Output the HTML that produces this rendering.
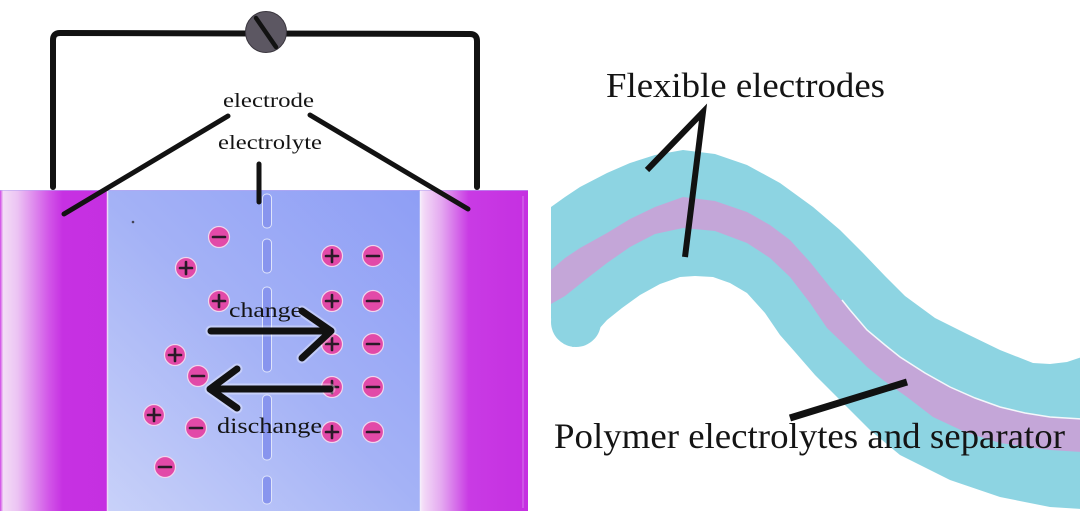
<!DOCTYPE html>
<html>
<head>
<meta charset="utf-8">
<style>
  html,body{margin:0;padding:0;background:#fff;}
  svg{display:block;}
  text{font-family:"Liberation Serif","Times New Roman",serif;fill:#141414;}
</style>
</head>
<body>
<svg width="1080" height="511" viewBox="0 0 1080 511" xmlns="http://www.w3.org/2000/svg">
  <defs>
    <linearGradient id="elyte" gradientUnits="userSpaceOnUse" x1="420" y1="190" x2="108" y2="511">
      <stop offset="0" stop-color="#8e9ef5"/>
      <stop offset="0.5" stop-color="#a4b2f6"/>
      <stop offset="1" stop-color="#c8d1f9"/>
    </linearGradient>
    <linearGradient id="leftE" gradientUnits="userSpaceOnUse" x1="0" y1="0" x2="108" y2="0">
      <stop offset="0" stop-color="#cf45e6"/>
      <stop offset="0.03" stop-color="#f3dcf6"/>
      <stop offset="0.16" stop-color="#ecc4f3"/>
      <stop offset="0.45" stop-color="#d257e8"/>
      <stop offset="0.58" stop-color="#c631e2"/>
      <stop offset="1" stop-color="#c52fe1"/>
    </linearGradient>
    <linearGradient id="rightE" gradientUnits="userSpaceOnUse" x1="420" y1="0" x2="528" y2="0">
      <stop offset="0" stop-color="#f7e8f9"/>
      <stop offset="0.05" stop-color="#f1d4f6"/>
      <stop offset="0.2" stop-color="#e4a8f0"/>
      <stop offset="0.45" stop-color="#c93be4"/>
      <stop offset="1" stop-color="#c52fe1"/>
    </linearGradient>
    <clipPath id="rightClip"><rect x="551" y="0" width="529" height="511"/></clipPath>
  </defs>

  <rect x="0" y="0" width="1080" height="511" fill="#ffffff"/>

  <!-- ===== LEFT: cell ===== -->
  <rect x="108" y="190" width="312" height="321" fill="url(#elyte)"/>
  <rect x="0" y="190" width="108" height="321" fill="url(#leftE)"/>
  <line x1="107.5" y1="191" x2="107.5" y2="511" stroke="#eed8f6" stroke-width="1.5"/>
  <rect x="420" y="190" width="108" height="321" fill="url(#rightE)"/>
  <line x1="420.5" y1="191" x2="420.5" y2="511" stroke="#f4eefb" stroke-width="1.5"/>
  <line x1="523" y1="196" x2="523" y2="508" stroke="#d978ec" stroke-width="1"/>
  <line x1="0" y1="190.5" x2="528" y2="190.5" stroke="#b9a6f2" stroke-width="1" opacity="0.6"/>

  <!-- tiny dot -->
  <circle cx="133" cy="222" r="1.3" fill="#445"/>

  <!-- dashed separator -->
  <g fill="#8895ee" stroke="#dfe4fb" stroke-width="1">
    <rect x="262.5" y="194" width="9" height="34" rx="4"/>
    <rect x="262.5" y="239" width="9" height="34" rx="4"/>
    <rect x="262.5" y="287" width="9" height="85" rx="4"/>
    <rect x="262.5" y="395" width="9" height="65" rx="4"/>
    <rect x="262.5" y="476" width="9" height="28" rx="4"/>
  </g>

  <!-- circuit wire -->
  <path d="M53,187 L53,40 Q53,33 60,33 L470,34 Q477,34 477,41 L477,187" fill="none" stroke="#121212" stroke-width="6" stroke-linejoin="round" stroke-linecap="round"/>
  <!-- meter -->
  <circle cx="266" cy="32" r="20.5" fill="#5c5762" stroke="#3a363e" stroke-width="1"/>
  <line x1="256" y1="18" x2="276" y2="47" stroke="#121212" stroke-width="4.5" stroke-linecap="round"/>

  <!-- pointer lines -->
  <g stroke="#121212" stroke-width="5" stroke-linecap="round">
    <line x1="228" y1="116" x2="64" y2="214"/>
    <line x1="310" y1="115" x2="468" y2="209"/>
    <line x1="259" y1="164" x2="259" y2="202"/>
  </g>

  <!-- labels -->
  <text x="223" y="107" font-size="20" textLength="91" lengthAdjust="spacingAndGlyphs">electrode</text>
  <text x="218" y="149" font-size="20" textLength="104" lengthAdjust="spacingAndGlyphs">electrolyte</text>

  <!-- ions -->
  <g id="ions">
    <g fill="#e24aa8" stroke="#f1d6ee" stroke-width="1.2">
      <circle cx="219" cy="237" r="10.5"/>
      <circle cx="186" cy="268" r="10.5"/>
      <circle cx="219" cy="301" r="10.5"/>
      <circle cx="175" cy="355" r="10.5"/>
      <circle cx="198" cy="376" r="10.5"/>
      <circle cx="154" cy="415" r="10.5"/>
      <circle cx="196" cy="428" r="10.5"/>
      <circle cx="165" cy="467" r="10.5"/>
      <circle cx="332" cy="256" r="10.5"/><circle cx="373" cy="256" r="10.5"/>
      <circle cx="332" cy="301" r="10.5"/><circle cx="373" cy="301" r="10.5"/>
      <circle cx="332" cy="344" r="10.5"/><circle cx="373" cy="344" r="10.5"/>
      <circle cx="332" cy="387" r="10.5"/><circle cx="373" cy="387" r="10.5"/>
      <circle cx="332" cy="432" r="10.5"/><circle cx="373" cy="432" r="10.5"/>
    </g>
    <g stroke="#2a1a28" stroke-width="2.6" stroke-linecap="round" fill="none">
      <!-- minus signs -->
      <path d="M213,237 h12 M192,376 h12 M190,428 h12 M159,467 h12
               M367,256 h12 M367,301 h12 M367,344 h12 M367,387 h12 M367,432 h12"/>
      <!-- plus signs -->
      <path d="M180,268 h12 M186,262 v12
               M213,301 h12 M219,295 v12
               M169,355 h12 M175,349 v12
               M148,415 h12 M154,409 v12
               M326,256 h12 M332,250 v12
               M326,301 h12 M332,295 v12
               M326,344 h12 M332,338 v12
               M326,387 h12 M332,381 v12
               M326,432 h12 M332,426 v12"/>
    </g>
  </g>

  <!-- arrows -->
  <g fill="none" stroke-linecap="round" stroke-linejoin="round">
    <g stroke="#ffffff" stroke-width="11" opacity="0.35">
      <path d="M211,331 L331,331 M302,311 L331,331 L302,358"/>
      <path d="M330,389 L210,389 M237,369 L210,389 L237,408"/>
    </g>
    <g stroke="#111111" stroke-width="7">
      <path d="M211,331 L331,331 M302,311 L331,331 L302,358"/>
      <path d="M330,389 L210,389 M237,369 L210,389 L237,408"/>
    </g>
  </g>
  <text x="229" y="317" font-size="21" textLength="73" lengthAdjust="spacingAndGlyphs">change</text>
  <text x="217" y="433" font-size="22" textLength="105" lengthAdjust="spacingAndGlyphs">dischange</text>

  <!-- ===== RIGHT: flexible battery ===== -->
  <g clip-path="url(#rightClip)">
    <!-- teal band -->
    <path fill="#8dd4e2" d="
      M551,207 L565,197 L580,187 L607,173 L630,163 L655,155 L683,150 L715,154 L747,165 L780,183
      L813,207 L840,230 L863,253 L885,276 L905,296 L935,318 L967,334 L1000,350 L1033,363 L1050,364
      L1067,362 L1082,357 L1082,509
      L1050,507 L1000,497 L950,480 L900,455 L870,430 L850,410 L815,375 L795,352 L780,335 L765,313
      L747,293 L730,283 L713,277 L695,276 L680,277 L660,284 L640,295 L622,308 L607,320 L598,330
      L590,338 L582,344 L573,347 L564,344 L557,337 L553,328 L551,318 Z"/>
    <!-- purple layer -->
    <path fill="#c4a6d8" d="
      M551,270 L565,258 L580,248 L607,233 L630,219 L655,207 L683,197 L715,201 L747,212 L770,225
      L790,240 L810,262 L830,287 L850,310 L867,330 L885,345 L900,357 L925,373 L950,387 L975,398
      L1000,407 L1025,413 L1050,417 L1082,419 L1082,452
      L1050,450 L1000,443 L965,432 L933,417 L907,397 L883,380 L867,367 L850,350 L827,328 L810,303
      L790,277 L770,258 L747,243 L715,231 L683,228 L655,234 L630,247 L607,263 L585,280 L565,296
      L551,304 Z"/>
    <!-- lower teal rounded end -->
    <circle cx="576" cy="322" r="25" fill="#8dd4e2"/>
    <!-- thin white separation line -->
    <polyline fill="none" stroke="#f4f8fb" stroke-width="1.5" points="842,300 850,310 867,330 885,345 900,357 925,373 950,387 975,398 1000,407 1025,413 1050,417 1082,419"/>
  </g>

  <!-- right pointers -->
  <g stroke="#111111" stroke-linecap="butt" stroke-linejoin="miter" fill="none">
    <path d="M647,170 L703,112 L685,257" stroke-width="6"/>
    <line x1="790" y1="418" x2="907" y2="382" stroke-width="7"/>
  </g>

  <text x="606" y="97" font-size="35" textLength="279" lengthAdjust="spacingAndGlyphs">Flexible electrodes</text>
  <text x="554" y="448" font-size="36" textLength="511" lengthAdjust="spacingAndGlyphs">Polymer electrolytes and separator</text>
</svg>
</body>
</html>
